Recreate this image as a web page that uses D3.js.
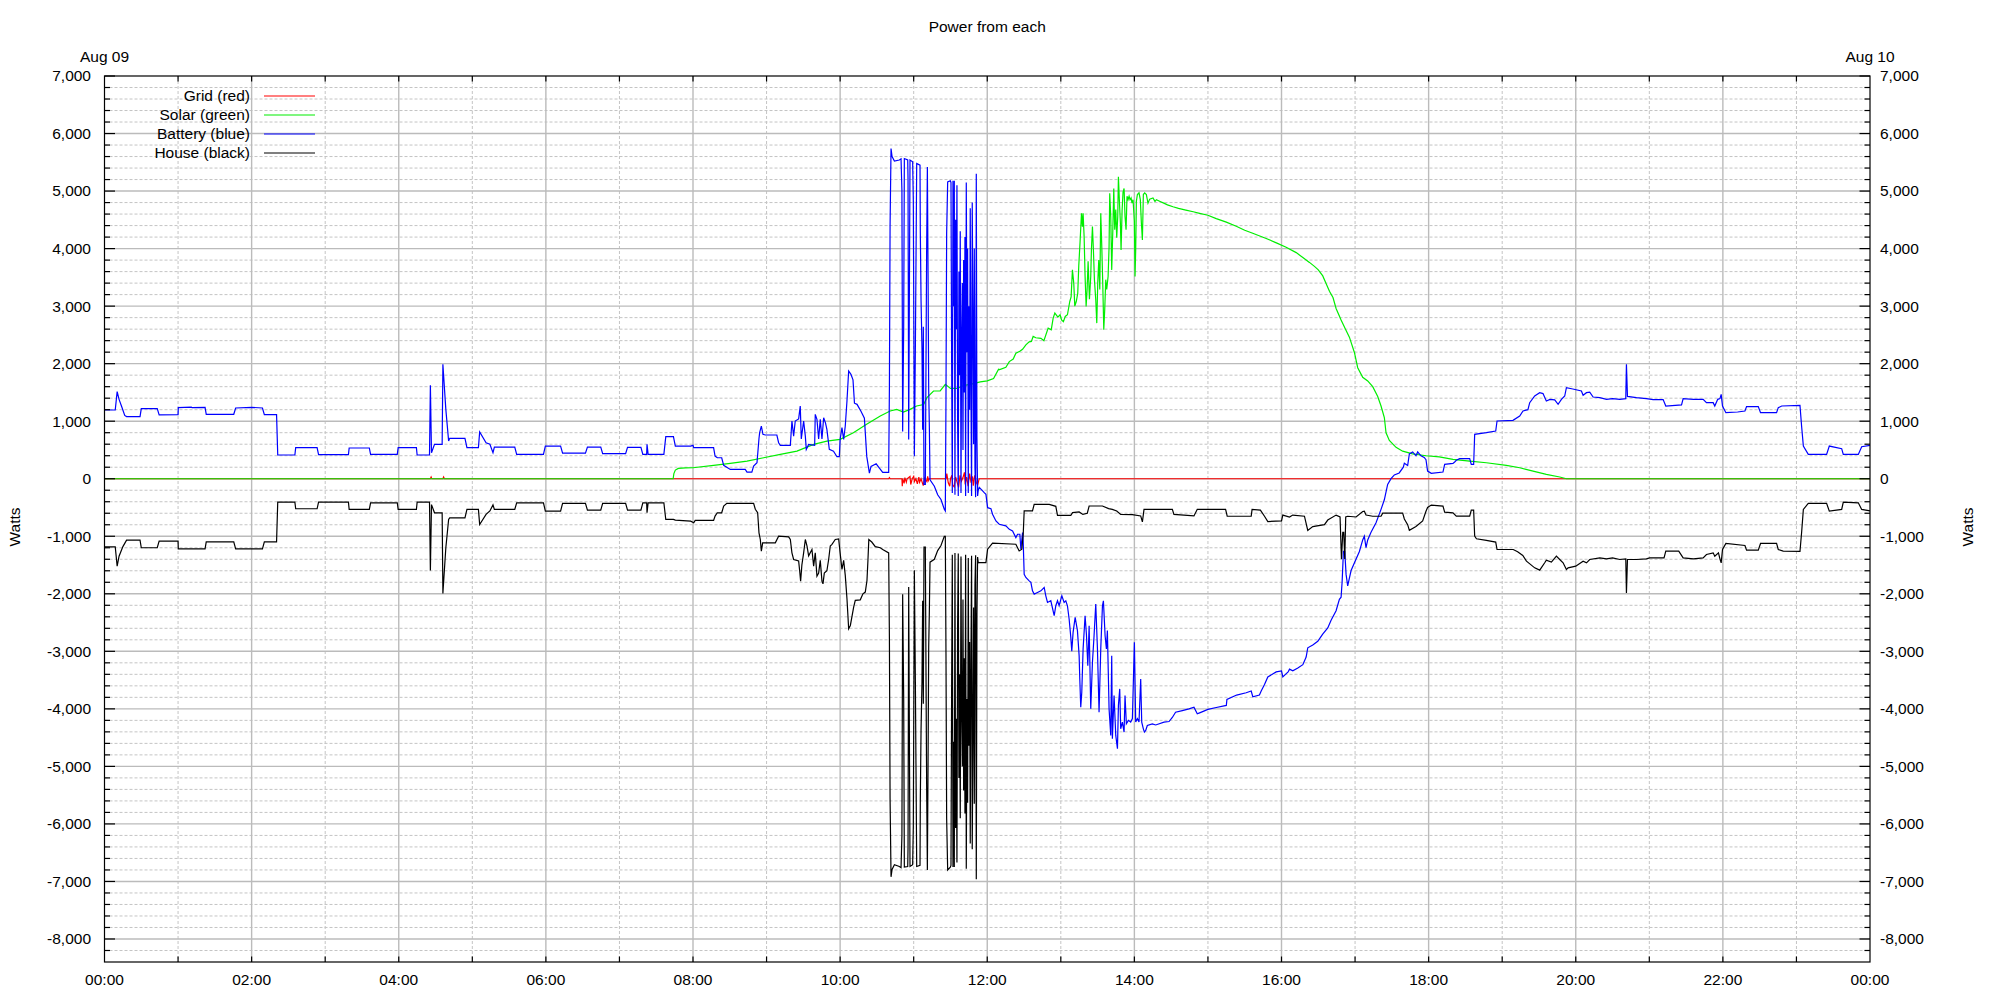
<!DOCTYPE html>
<html><head><meta charset="utf-8">
<script src="https://cdn.jsdelivr.net/npm/d3@7"></script>
<style>
body{margin:0;background:#fff;}
svg{display:block;font-family:"Liberation Sans",Arial,sans-serif;}
</style></head><body>
<svg id="chart" width="2000" height="1000"></svg>
<script>
// ---------------- data ----------------
const chartTitle = "Power from each";
const dateLeft = "Aug 09";
const dateRight = "Aug 10";
const yLabel = "Watts";
const xTickHours = [0,2,4,6,8,10,12,14,16,18,20,22,24];
const xTickLabels = ["00:00","02:00","04:00","06:00","08:00","10:00","12:00","14:00","16:00","18:00","20:00","22:00","00:00"];
const yTickValues = [7000,6000,5000,4000,3000,2000,1000,0,-1000,-2000,-3000,-4000,-5000,-6000,-7000,-8000];
const yTickLabels = ["7,000","6,000","5,000","4,000","3,000","2,000","1,000","0","-1,000","-2,000","-3,000","-4,000","-5,000","-6,000","-7,000","-8,000"];
const legendLabels = ["Grid (red)","Solar (green)","Battery (blue)","House (black)"];
const seriesColors = ["#ff0000","#00ee00","#0000ff","#000000"];

// [hour of day, watts]
const grid = [[0,0],[4.43,0],[4.44,30],[4.45,0],[4.6,0],[4.61,30],[4.62,0],[10.66,0],[10.67,20],[10.68,0],[10.84,0],[10.845,-130],[10.85,0],[10.87,-80],[10.88,20],[10.9,-60],[10.91,0],[10.95,40],[10.96,-100],[10.98,0],[11.0,40],[11.01,-50],[11.03,0],[11.05,-90],[11.07,30],[11.08,-60],[11.1,0],[11.13,-120],[11.15,10],[11.18,-50],[11.19,40],[11.2,-30],[11.21,0],[11.44,0],[11.45,90],[11.47,-70],[11.49,-130],[11.5,0],[11.52,60],[11.53,-110],[11.55,-140],[11.57,30],[11.59,-60],[11.61,-150],[11.63,60],[11.65,-40],[11.67,20],[11.69,110],[11.7,-100],[11.72,30],[11.74,-130],[11.76,90],[11.78,-70],[11.8,40],[11.81,-120],[11.83,60],[11.85,-60],[11.87,-110],[11.89,0],[24,0]];

const solar = [[0,0],[7.73,0],[7.74,90],[7.76,150],[7.8,180],[7.9,190],[8.0,191],[8.28,232],[8.507,267],[8.734,307],[8.96,365],[9.187,423],[9.413,481],[9.64,597],[9.82,655],[10.0,684],[10.18,800],[10.36,945],[10.546,1090],[10.68,1177],[10.77,1206],[10.86,1160],[10.95,1206],[11.04,1264],[11.135,1290],[11.18,1409],[11.27,1525],[11.36,1525],[11.43,1641],[11.5,1570],[11.59,1570],[11.68,1620],[11.77,1641],[11.905,1682],[12.0,1700],[12.086,1740],[12.154,1902],[12.17,1896],[12.253,1936],[12.3,2036],[12.353,2081],[12.389,2181],[12.443,2214],[12.48,2250],[12.525,2326],[12.57,2380],[12.6,2387],[12.624,2474],[12.66,2450],[12.73,2440],[12.77,2400],[12.828,2618],[12.87,2590],[12.896,2792],[12.919,2879],[12.96,2810],[12.99,2850],[13.01,2760],[13.035,2730],[13.06,2820],[13.09,2850],[13.122,3081],[13.14,3160],[13.158,3630],[13.176,3400],[13.19,3000],[13.21,3080],[13.23,3220],[13.244,3700],[13.262,4121],[13.281,4613],[13.294,4380],[13.303,4613],[13.317,4200],[13.33,3520],[13.344,2994],[13.357,3280],[13.371,3780],[13.389,3120],[13.407,3520],[13.416,3980],[13.43,4382],[13.443,3980],[13.457,3460],[13.475,3110],[13.489,2705],[13.502,3400],[13.516,3800],[13.53,3290],[13.543,4613],[13.557,4030],[13.57,3400],[13.584,2590],[13.597,2940],[13.611,3460],[13.624,3290],[13.643,3520],[13.656,4030],[13.665,4960],[13.679,4550],[13.692,3630],[13.706,4270],[13.72,5046],[13.733,4330],[13.747,4680],[13.76,4190],[13.774,4560],[13.783,5249],[13.796,4840],[13.81,4440],[13.819,3977],[13.833,4660],[13.846,4980],[13.86,5046],[13.873,4560],[13.887,4330],[13.9,4910],[13.914,4850],[13.928,4910],[13.941,4850],[13.955,4880],[13.968,4790],[13.982,4850],[14.0,4480],[14.009,3514],[14.018,3980],[14.027,4820],[14.041,4940],[14.063,4970],[14.081,4850],[14.095,4450],[14.109,4150],[14.122,4940],[14.14,4970],[14.163,4940],[14.185,4790],[14.208,4860],[14.253,4880],[14.28,4820],[14.3,4850],[14.35,4820],[14.4,4790],[14.45,4760],[14.525,4728],[14.6,4700],[14.7,4670],[14.8,4640],[14.887,4613],[15.0,4580],[15.113,4522],[15.25,4460],[15.385,4389],[15.5,4320],[15.6,4270],[15.792,4176],[15.93,4100],[16.063,4023],[16.2,3930],[16.29,3844],[16.38,3760],[16.448,3691],[16.5,3630],[16.561,3525],[16.606,3392],[16.652,3259],[16.7,3150],[16.742,2959],[16.81,2760],[16.87,2600],[16.923,2461],[16.991,2195],[17.036,1929],[17.104,1762],[17.172,1700],[17.24,1600],[17.308,1430],[17.353,1264],[17.398,1064],[17.421,798],[17.466,665],[17.557,545],[17.647,479],[17.783,432],[17.964,399],[18.145,380],[18.331,336],[18.558,307],[18.785,278],[19.057,232],[19.238,191],[19.42,133],[19.6,75],[19.782,30],[19.873,0],[24,0]];

const battery = [[0,1195],[0.146,1195],[0.172,1514],[0.198,1380],[0.239,1235],[0.275,1100],[0.3,1080],[0.483,1080],[0.5,1218],[0.717,1218],[0.743,1110],[1.0,1114],[1.003,1235],[1.18,1245],[1.19,1235],[1.367,1240],[1.383,1120],[1.757,1120],[1.783,1230],[2.0,1240],[2.147,1230],[2.173,1114],[2.339,1114],[2.355,412],[2.588,412],[2.599,540],[2.89,540],[2.91,418],[3.316,418],[3.326,534],[3.6,534],[3.617,423],[3.98,423],[3.992,540],[4.24,540],[4.25,412],[4.418,412],[4.43,1624],[4.445,452],[4.486,597],[4.59,597],[4.6,1990],[4.64,1206],[4.678,655],[4.693,702],[4.9,702],[4.927,540],[5.083,540],[5.1,812],[5.187,626],[5.239,600],[5.281,452],[5.3,551],[5.577,551],[5.603,423],[5.967,423],[5.993,568],[6.2,568],[6.227,446],[6.538,446],[6.565,551],[6.746,551],[6.772,435],[7.084,435],[7.11,545],[7.292,545],[7.318,423],[7.37,423],[7.375,600],[7.39,423],[7.604,423],[7.63,731],[7.734,731],[7.76,568],[7.968,568],[8.0,580],[8.01,540],[8.28,540],[8.3,394],[8.33,365],[8.39,365],[8.417,232],[8.507,162],[8.71,162],[8.734,116],[8.8,116],[8.824,220],[8.87,278],[8.897,700],[8.906,800],[8.929,916],[8.951,771],[8.983,760],[9.14,760],[9.164,626],[9.187,580],[9.323,580],[9.345,1003],[9.368,740],[9.39,1003],[9.436,1040],[9.458,1264],[9.472,690],[9.504,1003],[9.527,740],[9.54,510],[9.572,597],[9.654,580],[9.662,1119],[9.685,1032],[9.708,690],[9.73,1032],[9.753,690],[9.776,1061],[9.8,974],[9.82,858],[9.853,510],[9.91,480],[9.957,383],[9.989,383],[10.0,684],[10.025,887],[10.048,684],[10.07,916],[10.093,1351],[10.116,1873],[10.147,1815],[10.175,1718],[10.195,1313],[10.23,1293],[10.285,1169],[10.33,1053],[10.362,388],[10.398,98],[10.42,214],[10.49,260],[10.534,185],[10.579,110],[10.66,110],
[10.67,1600],[10.679,4380],[10.692,5740],[10.706,5600],[10.738,5520],[10.805,5540],[10.828,5560],[10.84,5015],[10.85,820],[10.864,2640],[10.873,5565],[10.919,5540],[10.923,5220],[10.932,680],[10.941,3100],[10.95,5540],[10.986,5510],[10.995,4840],[11.009,390],[11.023,2300],[11.041,5480],[11.086,5450],[11.09,4320],[11.1,3100],[11.113,2250],[11.122,850],[11.131,2640],[11.14,-100],[11.158,-100],[11.176,3945],[11.186,5420],[11.195,3630],[11.204,1545],[11.213,900],[11.222,-20],[11.281,-130],[11.326,-280],[11.371,-360],[11.416,-530],[11.43,-560],[11.439,1400],[11.448,4260],[11.462,5160],[11.498,5180],[11.507,5150],[11.516,2000],[11.525,-250],[11.534,5180],[11.543,3000],[11.552,5180],[11.561,-280],[11.57,4500],[11.579,2600],[11.588,5100],[11.597,1000],[11.606,-300],[11.615,3600],[11.624,1800],[11.633,4300],[11.643,-250],[11.652,2500],[11.661,3400],[11.67,500],[11.679,3800],[11.688,1500],[11.697,4200],[11.706,-300],[11.715,5150],[11.724,2200],[11.733,4000],[11.742,-250],[11.751,3000],[11.76,1200],[11.769,4700],[11.778,1600],[11.787,-300],[11.796,4800],[11.805,2800],[11.814,600],[11.824,4000],[11.833,200],[11.842,-320],[11.851,5300],[11.86,700],[11.869,-300],[11.878,-200],
[11.891,-150],[11.937,-210],[11.959,-243],[11.982,-272],[12.005,-503],[12.05,-520],[12.072,-618],[12.118,-734],[12.163,-792],[12.253,-820],[12.3,-880],[12.344,-907],[12.389,-1023],[12.412,-965],[12.443,-965],[12.457,-1220],[12.48,-936],[12.489,-1110],[12.502,-1660],[12.525,-1717],[12.57,-1775],[12.593,-1800],[12.615,-1948],[12.638,-2006],[12.683,-1977],[12.729,-1948],[12.774,-1890],[12.796,-2035],[12.819,-2150],[12.864,-2121],[12.91,-2381],[12.932,-2208],[12.955,-2121],[12.977,-2208],[13.014,-2035],[13.045,-2150],[13.068,-2121],[13.09,-2208],[13.113,-2439],[13.136,-2757],[13.149,-3000],[13.167,-2670],[13.195,-2410],[13.226,-2640],[13.249,-3075],[13.258,-3480],[13.271,-3970],[13.285,-3710],[13.303,-2960],[13.33,-2381],[13.348,-2700],[13.367,-3250],[13.385,-2555],[13.407,-4000],[13.43,-3190],[13.452,-2730],[13.475,-2179],[13.498,-2960],[13.52,-4058],[13.543,-2960],[13.566,-2208],[13.579,-2121],[13.602,-2730],[13.62,-2960],[13.633,-2640],[13.656,-4000],[13.679,-4462],[13.692,-3075],[13.701,-4520],[13.724,-3770],[13.747,-4462],[13.77,-4693],[13.783,-3940],[13.801,-3653],[13.814,-4347],[13.837,-4230],[13.86,-4404],[13.873,-3770],[13.891,-4260],[13.919,-4200],[13.95,-4230],[13.973,-4170],[13.986,-3537],[14.0,-2844],[14.018,-4230],[14.041,-4170],[14.063,-4230],[14.086,-3480],[14.1,-4230],[14.122,-4347],[14.136,-4404],[14.154,-4375],[14.176,-4290],[14.244,-4260],[14.29,-4280],[14.403,-4230],[14.471,-4220],[14.516,-4150],[14.56,-4058],[14.652,-4030],[14.742,-4000],[14.81,-3970],[14.855,-4086],[14.887,-4070],[15.0,-4010],[15.113,-3977],[15.25,-3940],[15.258,-3837],[15.39,-3760],[15.52,-3720],[15.588,-3690],[15.61,-3790],[15.7,-3760],[15.724,-3690],[15.769,-3578],[15.814,-3445],[15.928,-3358],[16.0,-3340],[16.018,-3445],[16.09,-3358],[16.109,-3310],[16.154,-3340],[16.222,-3290],[16.29,-3232],[16.335,-3099],[16.357,-2939],[16.425,-2890],[16.493,-2826],[16.56,-2700],[16.629,-2594],[16.674,-2461],[16.742,-2294],[16.787,-2095],[16.81,-2060],[16.824,-1796],[16.842,-1264],[16.86,-1264],[16.878,-1663],[16.9,-1862],[16.923,-1729],[16.946,-1596],[17.014,-1397],[17.059,-1264],[17.104,-1064],[17.126,-1000],[17.149,-1197],[17.172,-1064],[17.217,-931],[17.285,-765],[17.353,-532],[17.398,-366],[17.443,-100],[17.489,0],[17.534,66],[17.6,100],[17.656,200],[17.67,270],[17.715,230],[17.738,432],[17.783,465],[17.828,399],[17.851,465],[17.896,399],[17.94,370],[17.964,330],[17.986,133],[18.036,93],[18.195,116],[18.218,249],[18.331,266],[18.354,290],[18.376,320],[18.422,348],[18.558,348],[18.58,249],[18.612,249],[18.626,771],[18.785,800],[18.912,829],[18.93,1003],[19.147,1015],[19.238,1090],[19.283,1177],[19.35,1200],[19.374,1322],[19.442,1438],[19.51,1496],[19.555,1480],[19.6,1351],[19.65,1380],[19.714,1370],[19.76,1293],[19.805,1380],[19.85,1438],[19.873,1583],[19.96,1560],[20.077,1525],[20.1,1450],[20.146,1496],[20.19,1505],[20.236,1420],[20.327,1409],[20.418,1380],[20.5,1392],[20.599,1380],[20.68,1392],[20.689,1989],[20.703,1430],[20.825,1409],[20.96,1392],[21.052,1375],[21.188,1375],[21.224,1264],[21.438,1282],[21.46,1392],[21.6,1380],[21.732,1380],[21.777,1322],[21.868,1322],[21.89,1264],[21.93,1380],[21.96,1392],[21.977,1467],[21.995,1264],[22.041,1148],[22.2,1160],[22.3,1177],[22.322,1253],[22.481,1253],[22.512,1148],[22.73,1148],[22.753,1235],[22.8,1264],[23.048,1276],[23.07,916],[23.094,568],[23.161,423],[23.41,423],[23.447,568],[23.615,522],[23.637,423],[23.841,423],[23.887,557],[24.0,580]];

const house = [[0,-1183],[0.146,-1183],[0.172,-1520],[0.198,-1346],[0.25,-1180],[0.3,-1067],[0.483,-1067],[0.5,-1200],[0.717,-1200],[0.743,-1085],[1.0,-1085],[1.003,-1218],[1.367,-1218],[1.383,-1096],[1.757,-1096],[1.783,-1218],[2.147,-1218],[2.173,-1096],[2.339,-1096],[2.355,-406],[2.588,-406],[2.599,-522],[2.89,-522],[2.91,-406],[3.316,-406],[3.326,-534],[3.6,-534],[3.617,-418],[3.98,-418],[3.992,-534],[4.24,-534],[4.25,-406],[4.418,-406],[4.43,-1595],[4.445,-450],[4.486,-592],[4.59,-592],[4.6,-1995],[4.64,-1200],[4.678,-708],[4.693,-680],[4.9,-680],[4.927,-534],[5.083,-534],[5.1,-795],[5.187,-620],[5.239,-560],[5.281,-455],[5.3,-534],[5.577,-534],[5.603,-418],[5.967,-418],[5.993,-563],[6.2,-563],[6.227,-429],[6.538,-429],[6.565,-545],[6.746,-545],[6.772,-429],[7.084,-429],[7.11,-545],[7.292,-545],[7.318,-418],[7.37,-418],[7.375,-590],[7.39,-418],[7.604,-418],[7.63,-708],[7.734,-708],[7.76,-720],[7.968,-737],[8.01,-766],[8.03,-725],[8.28,-725],[8.3,-650],[8.33,-592],[8.39,-592],[8.417,-476],[8.46,-429],[8.824,-429],[8.847,-530],[8.879,-592],[8.897,-940],[8.915,-1056],[8.929,-1259],[8.947,-1114],[9.119,-1114],[9.164,-998],[9.3,-1010],[9.323,-1056],[9.345,-1288],[9.368,-1404],[9.436,-1430],[9.45,-1600],[9.463,-1780],[9.48,-1500],[9.504,-1290],[9.527,-1056],[9.55,-1170],[9.572,-1340],[9.617,-1230],[9.64,-1520],[9.662,-1288],[9.685,-1694],[9.708,-1640],[9.73,-1420],[9.753,-1780],[9.767,-1827],[9.785,-1640],[9.82,-1600],[9.844,-1404],[9.866,-1170],[9.889,-1140],[9.934,-1056],[9.98,-1045],[10.0,-1288],[10.025,-1578],[10.048,-1420],[10.07,-1680],[10.093,-2087],[10.116,-2607],[10.139,-2550],[10.184,-2231],[10.206,-2115],[10.274,-2105],[10.31,-2000],[10.342,-1970],[10.365,-1770],[10.378,-1420],[10.39,-1056],[10.43,-1100],[10.478,-1180],[10.546,-1200],[10.579,-1230],[10.66,-1290],
[10.67,-2780],[10.679,-5560],[10.692,-6920],[10.706,-6790],[10.738,-6710],[10.805,-6740],[10.828,-6760],[10.84,-6200],[10.85,-2010],[10.864,-3830],[10.873,-6750],[10.919,-6740],[10.923,-6420],[10.932,-1880],[10.941,-4300],[10.95,-6740],[10.986,-6710],[10.995,-6040],[11.009,-1590],[11.023,-3540],[11.041,-6740],[11.086,-6720],[11.09,-5590],[11.1,-4370],[11.113,-3520],[11.122,-2120],[11.131,-3910],[11.14,-1190],[11.158,-1190],[11.176,-5300],[11.186,-6800],[11.195,-5010],[11.204,-2930],[11.213,-2300],[11.222,-1450],[11.281,-1400],[11.326,-1250],[11.371,-1160],[11.416,-1000],[11.43,-1000],[11.439,-3040],[11.448,-5900],[11.462,-6800],[11.498,-6750],[11.507,-6720],[11.516,-3570],[11.525,-1320],[11.534,-6750],[11.543,-4570],[11.552,-6750],[11.561,-1290],[11.57,-6070],[11.579,-4170],[11.588,-6670],[11.597,-2570],[11.606,-1300],[11.615,-5200],[11.624,-3400],[11.633,-5900],[11.643,-1350],[11.652,-4100],[11.661,-5000],[11.67,-2100],[11.679,-5420],[11.688,-3120],[11.697,-5820],[11.706,-1320],[11.715,-6780],[11.724,-3830],[11.733,-5630],[11.742,-1380],[11.751,-4640],[11.76,-2840],[11.769,-6340],[11.778,-3240],[11.787,-1340],[11.796,-6440],[11.805,-4440],[11.814,-2240],[11.824,-5650],[11.833,-1850],[11.842,-1330],[11.851,-6960],[11.86,-2370],[11.869,-1360],[11.878,-1460],
[11.891,-1457],[11.982,-1457],[12.005,-1225],[12.072,-1121],[12.389,-1139],[12.434,-1255],[12.47,-1225],[12.489,-965],[12.502,-560],[12.615,-560],[12.638,-445],[12.842,-445],[12.932,-480],[12.955,-636],[13.136,-636],[13.16,-590],[13.249,-578],[13.3,-620],[13.36,-600],[13.385,-474],[13.566,-474],[13.65,-520],[13.7,-532],[13.76,-560],[13.814,-620],[13.973,-625],[14.086,-647],[14.109,-751],[14.131,-532],[14.516,-532],[14.538,-620],[14.81,-647],[14.855,-532],[15.24,-532],[15.262,-652],[15.588,-652],[15.6,-532],[15.713,-545],[15.769,-652],[15.814,-745],[16.0,-732],[16.018,-632],[16.109,-665],[16.153,-632],[16.312,-652],[16.357,-898],[16.425,-831],[16.584,-798],[16.629,-718],[16.742,-632],[16.796,-665],[16.815,-1397],[16.833,-931],[16.846,-931],[16.86,-1397],[16.873,-665],[16.9,-652],[17.014,-665],[17.104,-570],[17.126,-565],[17.149,-632],[17.24,-652],[17.353,-652],[17.376,-599],[17.647,-599],[17.67,-700],[17.715,-798],[17.738,-898],[17.828,-831],[17.919,-732],[17.964,-565],[17.986,-499],[18.036,-458],[18.195,-475],[18.218,-580],[18.331,-592],[18.376,-650],[18.558,-650],[18.58,-545],[18.612,-545],[18.626,-998],[18.65,-1044],[18.785,-1073],[18.912,-1102],[18.93,-1230],[19.15,-1230],[19.21,-1270],[19.28,-1335],[19.33,-1433],[19.442,-1549],[19.51,-1589],[19.578,-1460],[19.6,-1415],[19.669,-1450],[19.737,-1346],[19.782,-1404],[19.828,-1462],[19.873,-1578],[19.896,-1549],[20.0,-1520],[20.1,-1433],[20.146,-1462],[20.19,-1404],[20.327,-1375],[20.418,-1392],[20.5,-1375],[20.599,-1404],[20.68,-1392],[20.689,-1984],[20.703,-1404],[20.825,-1404],[20.96,-1392],[21.005,-1375],[21.2,-1375],[21.224,-1259],[21.4,-1259],[21.46,-1375],[21.6,-1392],[21.732,-1375],[21.777,-1317],[21.868,-1288],[21.89,-1346],[21.94,-1288],[21.96,-1392],[21.977,-1462],[21.995,-1230],[22.041,-1125],[22.3,-1160],[22.322,-1241],[22.481,-1241],[22.512,-1125],[22.73,-1125],[22.753,-1230],[22.82,-1259],[23.048,-1264],[23.07,-940],[23.094,-534],[23.161,-429],[23.41,-429],[23.447,-563],[23.615,-534],[23.637,-406],[23.841,-418],[23.887,-534],[24.0,-560]];

// ---------------- drawing ----------------
const W = 2000, H = 1000;
const plot = {left: 104.5, right: 1870, top: 76, bottom: 962};
const svg = d3.select("#chart");
const FS = "15.5px";

const x = d3.scaleLinear().domain([0, 24]).range([plot.left, plot.right]);
const y = d3.scaleLinear().domain([-8400, 7000]).range([plot.bottom, plot.top]);

const gGrid = svg.append("g");
// minor grid
const yMinor = d3.range(-8200, 7000, 200).filter(v => v % 1000 !== 0);
const xMinor = d3.range(1, 24, 2);
gGrid.selectAll(".ymin").data(yMinor).join("line")
  .attr("x1", plot.left).attr("x2", plot.right)
  .attr("y1", d => y(d)).attr("y2", d => y(d))
  .attr("stroke", "#c4c4c4").attr("stroke-width", 1).attr("stroke-dasharray", "3,2");
gGrid.selectAll(".xmin").data(xMinor).join("line")
  .attr("y1", plot.top).attr("y2", plot.bottom)
  .attr("x1", d => x(d)).attr("x2", d => x(d))
  .attr("stroke", "#c4c4c4").attr("stroke-width", 1).attr("stroke-dasharray", "3,2");
// major grid
gGrid.selectAll(".ymaj").data(yTickValues.filter(v => v !== 7000)).join("line")
  .attr("x1", plot.left).attr("x2", plot.right)
  .attr("y1", d => y(d)).attr("y2", d => y(d))
  .attr("stroke", "#bbbbbb").attr("stroke-width", 1.4);
gGrid.selectAll(".xmaj").data(xTickHours.filter(h => h > 0 && h < 24)).join("line")
  .attr("y1", plot.top).attr("y2", plot.bottom)
  .attr("x1", d => x(d)).attr("x2", d => x(d))
  .attr("stroke", "#bbbbbb").attr("stroke-width", 1.4);

// data lines
const line = d3.line().x(d => x(d[0])).y(d => y(d[1]));
const seriesData = [grid, solar, battery, house];
const gLines = svg.append("g");
seriesData.forEach((s, i) => {
  gLines.append("path").datum(s).attr("d", line)
    .attr("fill", "none").attr("stroke", seriesColors[i])
    .attr("stroke-width", 1.2).attr("stroke-linejoin", "miter");
});

// frame
svg.append("rect").attr("x", plot.left).attr("y", plot.top)
  .attr("width", plot.right - plot.left).attr("height", plot.bottom - plot.top)
  .attr("fill", "none").attr("stroke", "#000").attr("stroke-width", 1.2);

// ticks
const gTicks = svg.append("g").attr("stroke", "#000").attr("stroke-width", 1.2);
const yAllTicks = d3.range(-8200, 7001, 200);
yAllTicks.forEach(v => {
  const len = (v % 1000 === 0) ? 10.5 : 5.5;
  gTicks.append("line").attr("x1", plot.left).attr("x2", plot.left + len).attr("y1", y(v)).attr("y2", y(v));
  gTicks.append("line").attr("x1", plot.right).attr("x2", plot.right - len).attr("y1", y(v)).attr("y2", y(v));
});
d3.range(1, 24).forEach(h => {
  gTicks.append("line").attr("x1", x(h)).attr("x2", x(h)).attr("y1", plot.bottom).attr("y2", plot.bottom - 5.5);
  gTicks.append("line").attr("x1", x(h)).attr("x2", x(h)).attr("y1", plot.top).attr("y2", plot.top + 5.5);
});

// tick labels
const gText = svg.append("g").attr("font-size", FS).attr("fill", "#000");
yTickValues.forEach((v, i) => {
  gText.append("text").attr("x", 91).attr("y", y(v)).attr("dy", "0.35em")
    .attr("text-anchor", "end").text(yTickLabels[i]);
  gText.append("text").attr("x", 1880).attr("y", y(v)).attr("dy", "0.35em")
    .attr("text-anchor", "start").text(yTickLabels[i]);
});
xTickHours.forEach((h, i) => {
  gText.append("text").attr("x", x(h)).attr("y", 985)
    .attr("text-anchor", "middle").text(xTickLabels[i]);
});
gText.append("text").attr("x", x(0)).attr("y", 62).attr("text-anchor", "middle").text(dateLeft);
gText.append("text").attr("x", x(24)).attr("y", 62).attr("text-anchor", "middle").text(dateRight);
gText.append("text").attr("x", (plot.left + plot.right) / 2).attr("y", 32).attr("text-anchor", "middle").text(chartTitle);
gText.append("text").attr("transform", `translate(20,527) rotate(-90)`).attr("text-anchor", "middle").text(yLabel);
gText.append("text").attr("transform", `translate(1973,527) rotate(-90)`).attr("text-anchor", "middle").text(yLabel);

// legend
legendLabels.forEach((lab, i) => {
  const ly = 96 + i * 19;
  gText.append("text").attr("x", 250).attr("y", ly).attr("dy", "0.35em")
    .attr("text-anchor", "end").text(lab);
  svg.append("line").attr("x1", 264).attr("x2", 315).attr("y1", ly).attr("y2", ly)
    .attr("stroke", seriesColors[i]).attr("stroke-width", 1.2);
});
</script>
</body></html>
